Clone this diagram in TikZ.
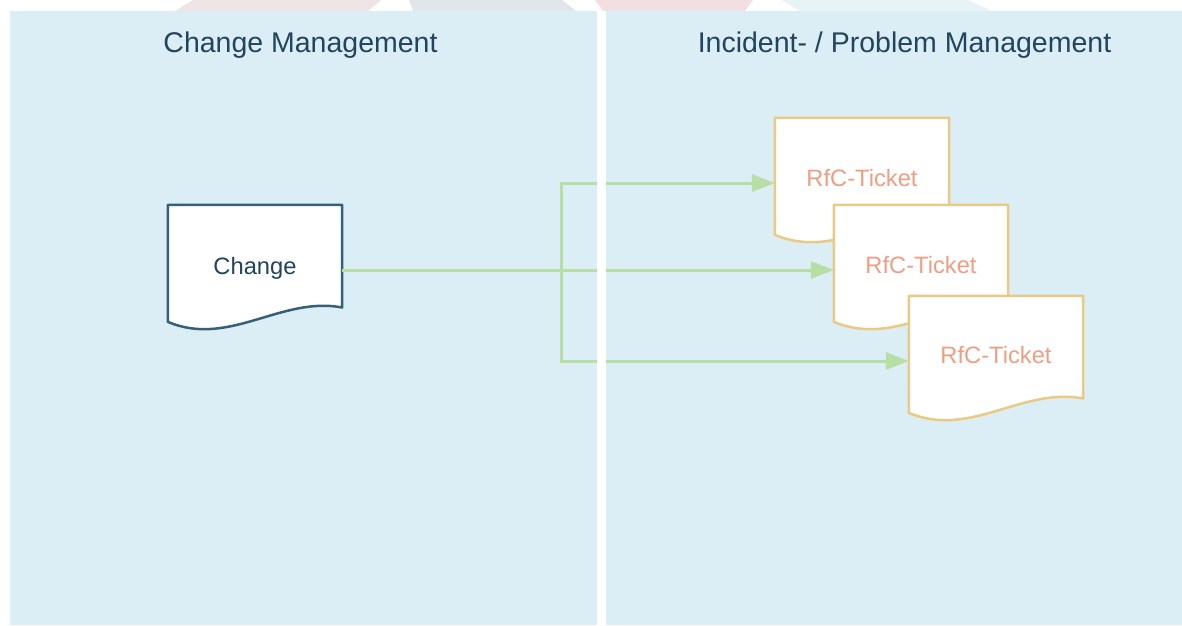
\documentclass[tikz,border=0pt]{standalone}
\usepackage{fontspec}
\setmainfont{Liberation Sans}
\usetikzlibrary{arrows.meta,calc}
\definecolor{panel}{HTML}{DCEEF5}
\definecolor{titlec}{HTML}{23445D}
\definecolor{chgstroke}{HTML}{35607A}
\definecolor{chgtext}{HTML}{23445D}
\definecolor{tktstroke}{HTML}{E9C983}
\definecolor{tkttext}{HTML}{EF9E83}
\definecolor{conn}{HTML}{B7DEA4}
\definecolor{wmA}{HTML}{EFE5E5}
\definecolor{wmB}{HTML}{E1E6EA}
\definecolor{wmC}{HTML}{F3DFE2}
\definecolor{wmD}{HTML}{E8F3F6}
\tikzset{
  docbox/.style={draw=none, minimum width=174pt, minimum height=130pt, inner sep=0pt},
  doctitle/.style={font=\fontsize{28.5}{30}\selectfont, text=titlec, anchor=base, inner sep=0pt},
  chglabel/.style={font=\fontsize{23.7}{26}\selectfont, text=chgtext, anchor=base, inner sep=0pt},
  tktlabel/.style={font=\fontsize{23.7}{26}\selectfont, text=tkttext, anchor=base, inner sep=0pt},
  connector/.style={draw=conn, line width=3pt, -{Triangle[length=23pt,width=17pt]}},
  panelbox/.style={fill=panel, draw=none},
}
\newcommand{\docshape}[3]{%
  \node[docbox] (#1) at ($(#3)+(87,65)$) {};
  \draw[line width=2.5pt, draw=#2, fill=white, line join=round]
    (#1.north west) -- (#1.north east) -- ++(0,102.7)
    .. controls +(-60.9,-11.7) and +(60.9,26) .. ($(#1.north west)+(0,117)$) -- cycle;
}
\begin{document}
\begin{tikzpicture}[x=1pt,y=-1pt]
\useasboundingbox (0,0) rectangle (1182,625);
\fill[white] (0,0) rectangle (1182,625);
% faint watermark pieces at the top
\fill[wmA] (175,11) -- (193,0) -- (381,0) -- (368,11) -- cycle;
\fill[wmB] (413,11) -- (409,0) -- (562,0) -- (576,11) -- cycle;
\fill[wmC] (603,11) -- (595,0) -- (753,0) -- (745,11) -- cycle;
\fill[wmD] (800,11) -- (782,0) -- (968,0) -- (992,11) -- cycle;
% panels
\path[panelbox] (10,11) rectangle (597,625);
\path[panelbox] (606,11) rectangle (1182,625);
\node[doctitle] (t-left) at (300.5,52.5) {Change Management};
\node[doctitle] (t-right) at (904.5,52.5) {Incident- / Problem Management};
% documents
\docshape{change}{chgstroke}{168,205}
\node[chglabel] (change-l) at ($(change)+(0,4.5)$) {Change};
\docshape{tk1}{tktstroke}{775,118}
\node[tktlabel] (tk1-l) at ($(tk1)+(0,3.5)$) {RfC-Ticket};
\docshape{tk2}{tktstroke}{834,205}
\node[tktlabel] (tk2-l) at ($(tk2)+(0,3.5)$) {RfC-Ticket};
\docshape{tk3}{tktstroke}{909,296}
\node[tktlabel] (tk3-l) at ($(tk3)+(0,2.5)$) {RfC-Ticket};
% connectors
\coordinate (br) at (561,270);
\draw[connector] (change.east) -- (tk2.west);
\draw[connector] (change.east) -- (br) |- (tk1.west);
\draw[connector] (change.east) -- (br) |- (tk3.west);
% white gap between the lanes, over the connectors
\fill[white] (597,11) rectangle (606,625);
\end{tikzpicture}
\end{document}
